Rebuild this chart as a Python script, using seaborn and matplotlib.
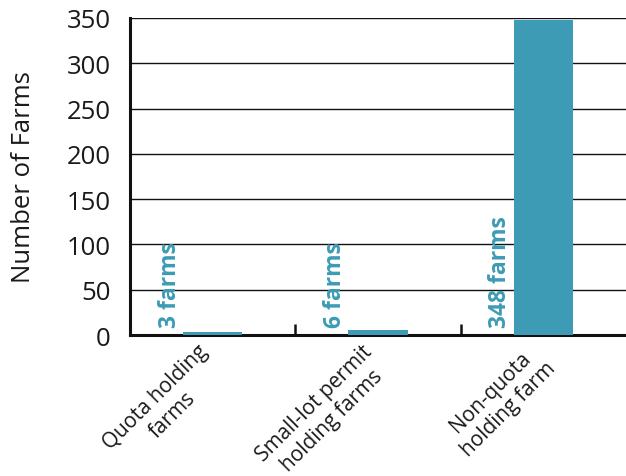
import matplotlib
matplotlib.use("Agg")
import matplotlib.pyplot as plt
import matplotlib.transforms as mtransforms
import seaborn as sns
import pandas as pd
from matplotlib.ticker import FixedLocator

categories = ["Quota holding\nfarms", "Small-lot permit\nholding farms", "Non-quota\nholding farm"]
farm_counts = [3, 6, 348]
y_ticks = [0, 50, 100, 150, 200, 250, 300, 350]

bar_color = "#3d9bb5"
text_color = "#1a1a1a"

sns.set_theme(style="white")
plt.rcParams["font.family"] = ["Open Sans", "DejaVu Sans"]

df = pd.DataFrame({"category": categories, "farms": farm_counts})

fig = plt.figure(figsize=(6.26, 4.77), dpi=100)
ax = fig.add_axes([130 / 626, 141 / 477, 496 / 626, 317 / 477])

sns.barplot(data=df, x="category", y="farms", color=bar_color, saturation=1,
            width=0.36, linewidth=0, ax=ax, zorder=3)

ax.set_xlim(-0.5, 2.5)
ax.set_ylim(0, 350)
ax.set_yticks(y_ticks)
ax.tick_params(axis="y", labelsize=18.5, length=0, pad=14, colors=text_color)
ax.yaxis.grid(True, color="#111111", linewidth=1.0, zorder=0)
ax.set_axisbelow(True)

# category separators as inward tick marks; labels sit at category centres
ax.xaxis.set_major_locator(FixedLocator([0.5, 1.5]))
ax.xaxis.set_major_formatter(plt.NullFormatter())
ax.tick_params(axis="x", which="major", direction="in", length=8, width=1.8,
               color="#111111", bottom=True)
ax.xaxis.set_minor_locator(FixedLocator([0, 1, 2]))
ax.set_xticklabels(categories, minor=True)
ax.tick_params(axis="x", which="minor", length=0, pad=4, labelsize=15,
               colors=text_color)
shift = mtransforms.ScaledTranslation(-16 / 100, 0, fig.dpi_scale_trans)
for lbl in ax.get_xticklabels(minor=True):
    lbl.set_rotation(45)
    lbl.set_ha("right")
    lbl.set_va("top")
    lbl.set_rotation_mode("anchor")
    lbl.set_multialignment("center")
    lbl.set_transform(lbl.get_transform() + shift)

ax.set_xlabel("")
ax.set_ylabel("Number of Farms", fontsize=18.5, color=text_color)
ax.yaxis.set_label_coords(-0.19, 0.5)

for side in ["top", "right"]:
    ax.spines[side].set_visible(False)
for side in ["left", "bottom"]:
    ax.spines[side].set_color("#111111")
    ax.spines[side].set_linewidth(2.2)

for i, v in enumerate(farm_counts):
    ax.text(i - 0.26, 9, f"{v} farms", rotation=90, ha="center", va="bottom",
            fontsize=16.5, fontweight="bold", color=bar_color, zorder=4)

fig.savefig("out.png", dpi=100)
